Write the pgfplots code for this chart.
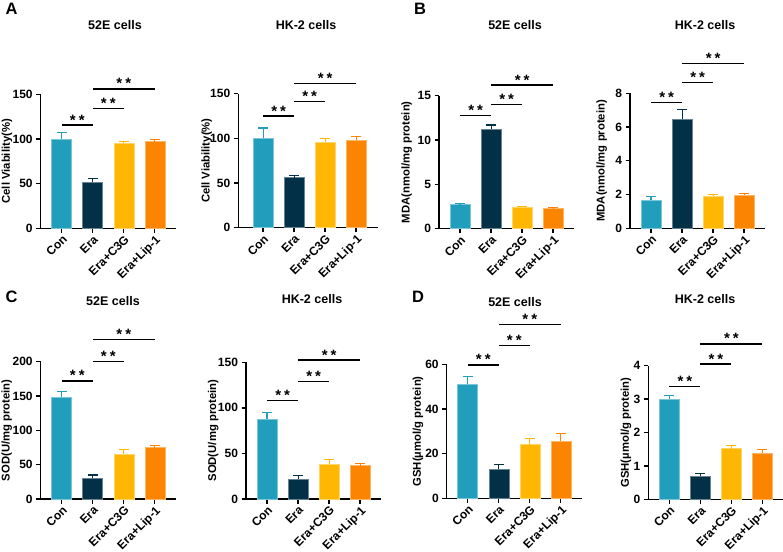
\documentclass[border=0pt]{standalone}
\usepackage{fontspec}
\setmainfont{Liberation Sans}
\usepackage{pgfplots}
\pgfplotsset{compat=1.18}
\definecolor{cCon}{HTML}{219EBC}
\definecolor{cEra}{HTML}{023047}
\definecolor{cC3G}{HTML}{FFB703}
\definecolor{cLip}{HTML}{FB8500}
\newcommand{\tkf}{\fontsize{12}{12}\selectfont\bfseries}
\newcommand{\lbf}{\fontsize{11.3}{12}\selectfont\bfseries}
\newcommand{\ttf}{\fontsize{12.5}{13}\selectfont\bfseries}
\newcommand{\stf}{\fontsize{15}{15}\selectfont\bfseries}
\newcommand{\pnf}{\fontsize{16.5}{17}\selectfont\bfseries}
\newcommand{\st}{*\hspace{3pt}*}
\tikzset{star/.style={anchor=base, yshift=0pt, font=\stf, inner sep=0pt}}
\pgfplotsset{
  gp/.style={
    scale only axis, width=135.2pt, height=134pt, anchor=south west,
    xmin=-0.68, xmax=3.68, ymin=0,
    axis x line*=bottom, axis y line*=left,
    axis line style={line width=1.3pt, -},
    every tick/.style={black, line width=1.3pt},
    tick align=outside, major tick length=4.5pt,
    xtick={0,1,2,3}, xticklabels={Con,Era,Era+C3G,Era+Lip-1},
    xticklabel style={rotate=45, anchor=north east, font=\tkf, inner sep=1pt},
    yticklabel style={font=\tkf},
    ylabel style={font=\lbf, anchor=center},
    clip=false,
    /pgf/number format/assume math mode=true,
  },
  ylpos/.style={ylabel style={at={(axis description cs:#1,0.5)}, anchor=center}},
  gbar/.style={ybar, bar width=20pt, bar shift=0pt, fill=#1, draw=#1!60!white, line width=0.6pt,
     error bars/y dir=plus, error bars/y explicit,
     error bars/error bar style={color=#1, line width=1.2pt},
     error bars/error mark options={rotate=90, mark size=5pt, line width=1.2pt, color=#1}},
  sig/.style={black, line width=1.4pt, mark=none},
}
\begin{document}
\begin{tikzpicture}
\path[use as bounding box] (0,0) rectangle (783pt,551pt);
% panel letters and titles
\node[font=\pnf] at (11.7pt,542pt) {A};
\node[font=\pnf] at (420pt,542pt) {B};
\node[font=\pnf] at (11.7pt,254.3pt) {C};
\node[font=\pnf] at (418pt,254.3pt) {D};
\node[font=\ttf] at (115pt,526pt) {52E cells};
\node[font=\ttf] at (306pt,526pt) {HK-2 cells};
\node[font=\ttf] at (515pt,526pt) {52E cells};
\node[font=\ttf] at (705pt,526pt) {HK-2 cells};
\node[font=\ttf] at (113pt,250pt) {52E cells};
\node[font=\ttf] at (312pt,252pt) {HK-2 cells};
\node[font=\ttf] at (515pt,249.3pt) {52E cells};
\node[font=\ttf] at (705pt,252pt) {HK-2 cells};

% A left
\begin{axis}[gp, at={(40.7pt,322.7pt)}, height=134pt, ymax=150, ytick={0,50,100,150}, ylabel={Cell Viability(\%)}, ylpos=-0.249]
\addplot[gbar=cCon] coordinates {(0,100) +- (0,7)};
\addplot[gbar=cEra] coordinates {(1,52) +- (0,4)};
\addplot[gbar=cC3G] coordinates {(2,95) +- (0,2.5)};
\addplot[gbar=cLip] coordinates {(3,97) +- (0,2.5)};
\addplot[sig] coordinates {(0,115.6) (1,115.6)};
\addplot[sig] coordinates {(1,134) (2,134)};
\addplot[sig] coordinates {(1,156) (3,156)};
\node[star] at (axis cs:0.5,115.6) {\st};
\node[star] at (axis cs:1.5,134) {\st};
\node[star] at (axis cs:2,156) {\st};
\end{axis}

% A right
\begin{axis}[gp, at={(238.3pt,323.3pt)}, xmin=-0.8, xmax=3.7, width=139.5pt, height=134pt, ymax=150, ytick={0,50,100,150}, ylabel={Cell Viability(\%)}, ylpos=-0.227]
\addplot[gbar=cCon] coordinates {(0,100) +- (0,11.5)};
\addplot[gbar=cEra] coordinates {(1,56) +- (0,2)};
\addplot[gbar=cC3G] coordinates {(2,96) +- (0,4)};
\addplot[gbar=cLip] coordinates {(3,98) +- (0,4)};
\addplot[sig] coordinates {(0,125) (1,125)};
\addplot[sig] coordinates {(1,141.5) (2,141.5)};
\addplot[sig] coordinates {(1,161.6) (3,161.6)};
\node[star] at (axis cs:0.5,125) {\st};
\node[star] at (axis cs:1.5,141.5) {\st};
\node[star] at (axis cs:2,161.6) {\st};
\end{axis}

% B left
\begin{axis}[gp, at={(439pt,322.3pt)}, height=133pt, ymax=15, ytick={0,5,10,15}, ylabel={MDA(nmol/mg protein)}, ylpos=-0.239]
\addplot[gbar=cCon] coordinates {(0,2.7) +- (0,0.12)};
\addplot[gbar=cEra] coordinates {(1,11.2) +- (0,0.5)};
\addplot[gbar=cC3G] coordinates {(2,2.45) +- (0,0.07)};
\addplot[gbar=cLip] coordinates {(3,2.25) +- (0,0.12)};
\addplot[sig] coordinates {(0,12.8) (1,12.8)};
\addplot[sig] coordinates {(1,14.0) (2,14.0)};
\addplot[sig] coordinates {(1,16.2) (3,16.2)};
\node[star] at (axis cs:0.5,12.8) {\st};
\node[star] at (axis cs:1.5,14.0) {\st};
\node[star] at (axis cs:2,16.2) {\st};
\end{axis}

% B right
\begin{axis}[gp, at={(630pt,322.7pt)}, height=135pt, ymax=8, ytick={0,2,4,6,8}, ylabel={MDA(nmol/mg protein)}, ylpos=-0.209]
\addplot[gbar=cCon] coordinates {(0,1.68) +- (0,0.2)};
\addplot[gbar=cEra] coordinates {(1,6.45) +- (0,0.6)};
\addplot[gbar=cC3G] coordinates {(2,1.92) +- (0,0.08)};
\addplot[gbar=cLip] coordinates {(3,1.95) +- (0,0.12)};
\addplot[sig] coordinates {(0,7.47) (1,7.47)};
\addplot[sig] coordinates {(1,8.63) (2,8.63)};
\addplot[sig] coordinates {(1,9.78) (3,9.78)};
\node[star] at (axis cs:0.5,7.47) {\st};
\node[star] at (axis cs:1.5,8.63) {\st};
\node[star] at (axis cs:2,9.78) {\st};
\end{axis}

% C left
\begin{axis}[gp, at={(40.7pt,52pt)}, height=137.3pt, ymax=200, ytick={0,50,100,150,200}, ylabel={SOD(U/mg protein)}, ylpos=-0.251]
\addplot[gbar=cCon] coordinates {(0,148) +- (0,9)};
\addplot[gbar=cEra] coordinates {(1,30) +- (0,5)};
\addplot[gbar=cC3G] coordinates {(2,65) +- (0,7)};
\addplot[gbar=cLip] coordinates {(3,75) +- (0,3)};
\addplot[sig] coordinates {(0,172) (1,172)};
\addplot[sig] coordinates {(1,200) (2,200)};
\addplot[sig] coordinates {(1,232.6) (3,232.6)};
\node[star] at (axis cs:0.5,172) {\st};
\node[star] at (axis cs:1.5,200) {\st};
\node[star] at (axis cs:2,232.6) {\st};
\end{axis}

% C right
\begin{axis}[gp, at={(246pt,52pt)}, height=136.7pt, ymax=150, ytick={0,50,100,150}, ylabel={SOD(U/mg protein)}, ylpos=-0.242]
\addplot[gbar=cCon] coordinates {(0,88) +- (0,7)};
\addplot[gbar=cEra] coordinates {(1,22) +- (0,3.5)};
\addplot[gbar=cC3G] coordinates {(2,38.5) +- (0,4.5)};
\addplot[gbar=cLip] coordinates {(3,36.5) +- (0,2.5)};
\addplot[sig] coordinates {(0,107.9) (1,107.9)};
\addplot[sig] coordinates {(1,129) (2,129)};
\addplot[sig] coordinates {(1,152.5) (3,152.5)};
\node[star] at (axis cs:0.5,107.9) {\st};
\node[star] at (axis cs:1.5,129) {\st};
\node[star] at (axis cs:2,152.5) {\st};
\end{axis}

% D left
\begin{axis}[gp, at={(446.7pt,52.7pt)}, height=134pt, ymax=60, ytick={0,20,40,60}, ylabel={GSH(µmol/g protein)}, ylpos=-0.212]
\addplot[gbar=cCon] coordinates {(0,51) +- (0,3.5)};
\addplot[gbar=cEra] coordinates {(1,13) +- (0,2)};
\addplot[gbar=cC3G] coordinates {(2,24) +- (0,2.8)};
\addplot[gbar=cLip] coordinates {(3,25.5) +- (0,3.5)};
\addplot[sig] coordinates {(0,59.7) (1,59.7)};
\addplot[sig] coordinates {(1,68.5) (2,68.5)};
\addplot[sig] coordinates {(1,77.9) (3,77.9)};
\node[star] at (axis cs:0.5,59.7) {\st};
\node[star] at (axis cs:1.5,68.5) {\st};
\node[star] at (axis cs:2,77.9) {\st};
\end{axis}

% D right
\begin{axis}[gp, at={(648.3pt,51.7pt)}, height=133.6pt, ymax=4, ytick={0,1,2,3,4}, ylabel={GSH(µmol/g protein)}, ylpos=-0.165]
\addplot[gbar=cCon] coordinates {(0,3.0) +- (0,0.1)};
\addplot[gbar=cEra] coordinates {(1,0.7) +- (0,0.07)};
\addplot[gbar=cC3G] coordinates {(2,1.52) +- (0,0.1)};
\addplot[gbar=cLip] coordinates {(3,1.38) +- (0,0.12)};
\addplot[sig] coordinates {(0,3.37) (1,3.37)};
\addplot[sig] coordinates {(1,4.05) (2,4.05)};
\addplot[sig] coordinates {(1,4.65) (3,4.65)};
\node[star] at (axis cs:0.5,3.37) {\st};
\node[star] at (axis cs:1.5,4.05) {\st};
\node[star] at (axis cs:2,4.65) {\st};
\end{axis}
\end{tikzpicture}
\end{document}
